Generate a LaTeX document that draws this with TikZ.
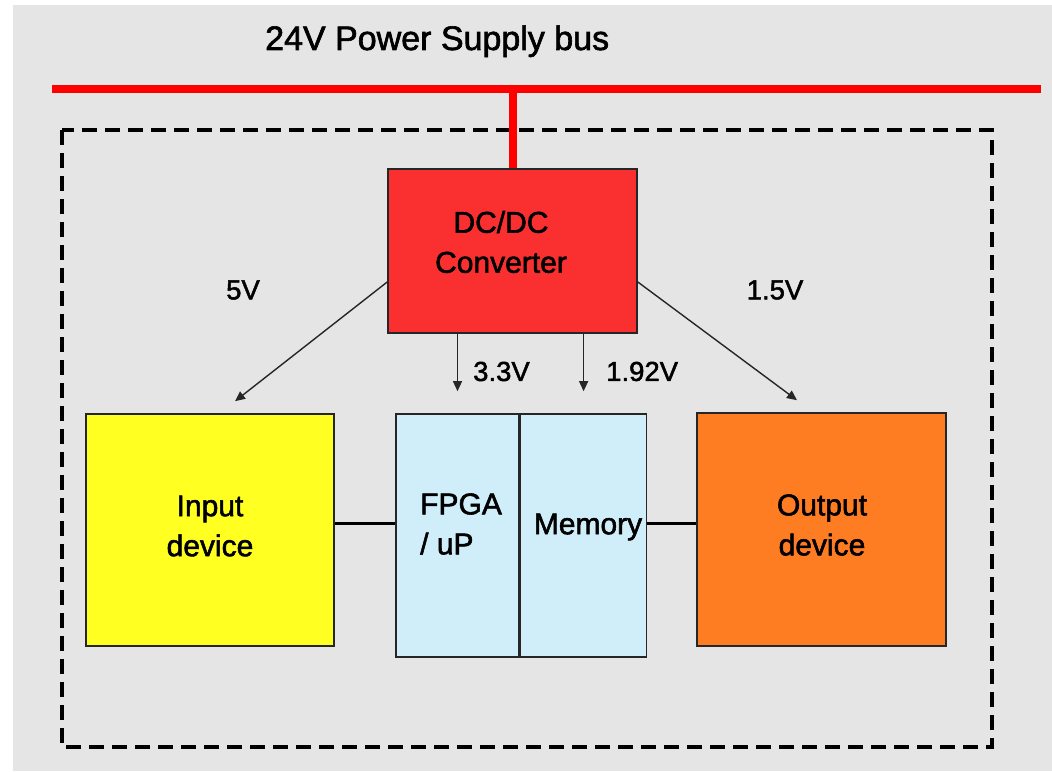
\documentclass[tikz,border=0pt]{standalone}
\usepackage{fontspec}
\setmainfont{Liberation Sans}[FakeBold=1.8]
\usetikzlibrary{positioning, arrows.meta, calc}
\definecolor{cBack}{HTML}{E5E5E5}
\definecolor{cBus}{HTML}{FF0000}
\definecolor{cConv}{HTML}{FA3030}
\definecolor{cIn}{HTML}{FFFF22}
\definecolor{cCore}{HTML}{D0EEFA}
\definecolor{cOut}{HTML}{FF7D22}

\begin{document}
\begin{tikzpicture}[
  x=1pt, y=1pt,
  >={Triangle[length=10pt, width=9pt]},
  box/.style={draw=black!85, line width=1.6pt, inner sep=0pt},
  txt/.style={inner sep=0pt, align=center, font=\fontsize{30}{40}\selectfont},
  bus/.style={draw=cBus, line width=8pt},
  flow/.style={->, draw=black!85, line width=1.4pt},
  wire/.style={draw=black, line width=3pt},
  lab/.style={font=\fontsize{27.5}{30}\selectfont, inner sep=0pt},
]
\useasboundingbox (0,0) rectangle (1052,771);
\fill[cBack] (13,0) rectangle (1052,766);

% ---- Supply bus ---------------------------------------------------------
\node[anchor=base west, inner sep=0pt, font=\fontsize{34}{36}\selectfont]
  (title) at (265,721) {24V Power Supply bus};
\coordinate (busL) at (52,682);
\coordinate (busR) at (1041,682);
\draw[bus] (busL) -- (busR);

% ---- Board outline --------------------------------------------------------
\draw[line width=3.5pt, dash pattern=on 15pt off 8pt] (62,641) rectangle (992,24);

% ---- Blocks -------------------------------------------------------------
\node[box, fill=cConv, minimum width=249pt, minimum height=164pt]
  (conv) at (512.5,520) {};
\node[box, fill=cIn, minimum width=248pt, minimum height=232pt]
  (indev) at (210,241) {};
\node[box, fill=cOut, minimum width=249pt, minimum height=233pt]
  (outdev) at (821.5,241.5) {};
\node[box, fill=cCore, minimum width=123pt, minimum height=243pt]
  (fpga) at (457.5,235.5) {};
\node[box, fill=cCore, minimum width=126pt, minimum height=243pt,
      right=0pt of fpga] (mem) {};

% block texts
\node[txt] (convtxt) at (501,529) {DC/DC\\Converter};
\node[txt] (intxt) at (210,245) {Input\\device};
\node[txt] (outtxt) at (822,246) {Output\\device};
\node[txt, anchor=west, align=left] (fpgatxt) at (420,247) {FPGA\\/ uP};
\node[txt] (memtxt) at (588,244) {Memory};

% ---- Connections --------------------------------------------------------
\coordinate (tap) at (conv.north |- busL);
\draw[bus] (tap) -- (conv.north);
\draw[flow] ([yshift=-31pt]conv.west) -- ([xshift=25pt, yshift=12pt]indev.north);
\draw[flow] ([yshift=-31pt]conv.east) -- ([xshift=-24.5pt, yshift=12pt]outdev.north);
\draw[flow] (conv.south -| fpga) -- ([yshift=22pt]fpga.north);
\draw[flow] (conv.south -| mem) -- ([yshift=22pt]mem.north);
\draw[wire] ([yshift=6pt]indev.east) -- ([yshift=6pt]indev.east -| fpga.west);
\draw[wire] ([yshift=5.5pt]outdev.west) -- ([yshift=5.5pt]outdev.west -| mem.east);

% ---- Voltage labels -----------------------------------------------------
\node[lab] (v5) at (243,481) {5V};
\node[lab] (v15) at (775,481) {1.5V};
\node[lab, anchor=west] (v33) at (473,399.5) {3.3V};
\node[lab, anchor=west] (v192) at (606,399.5) {1.92V};

\end{tikzpicture}
\end{document}
